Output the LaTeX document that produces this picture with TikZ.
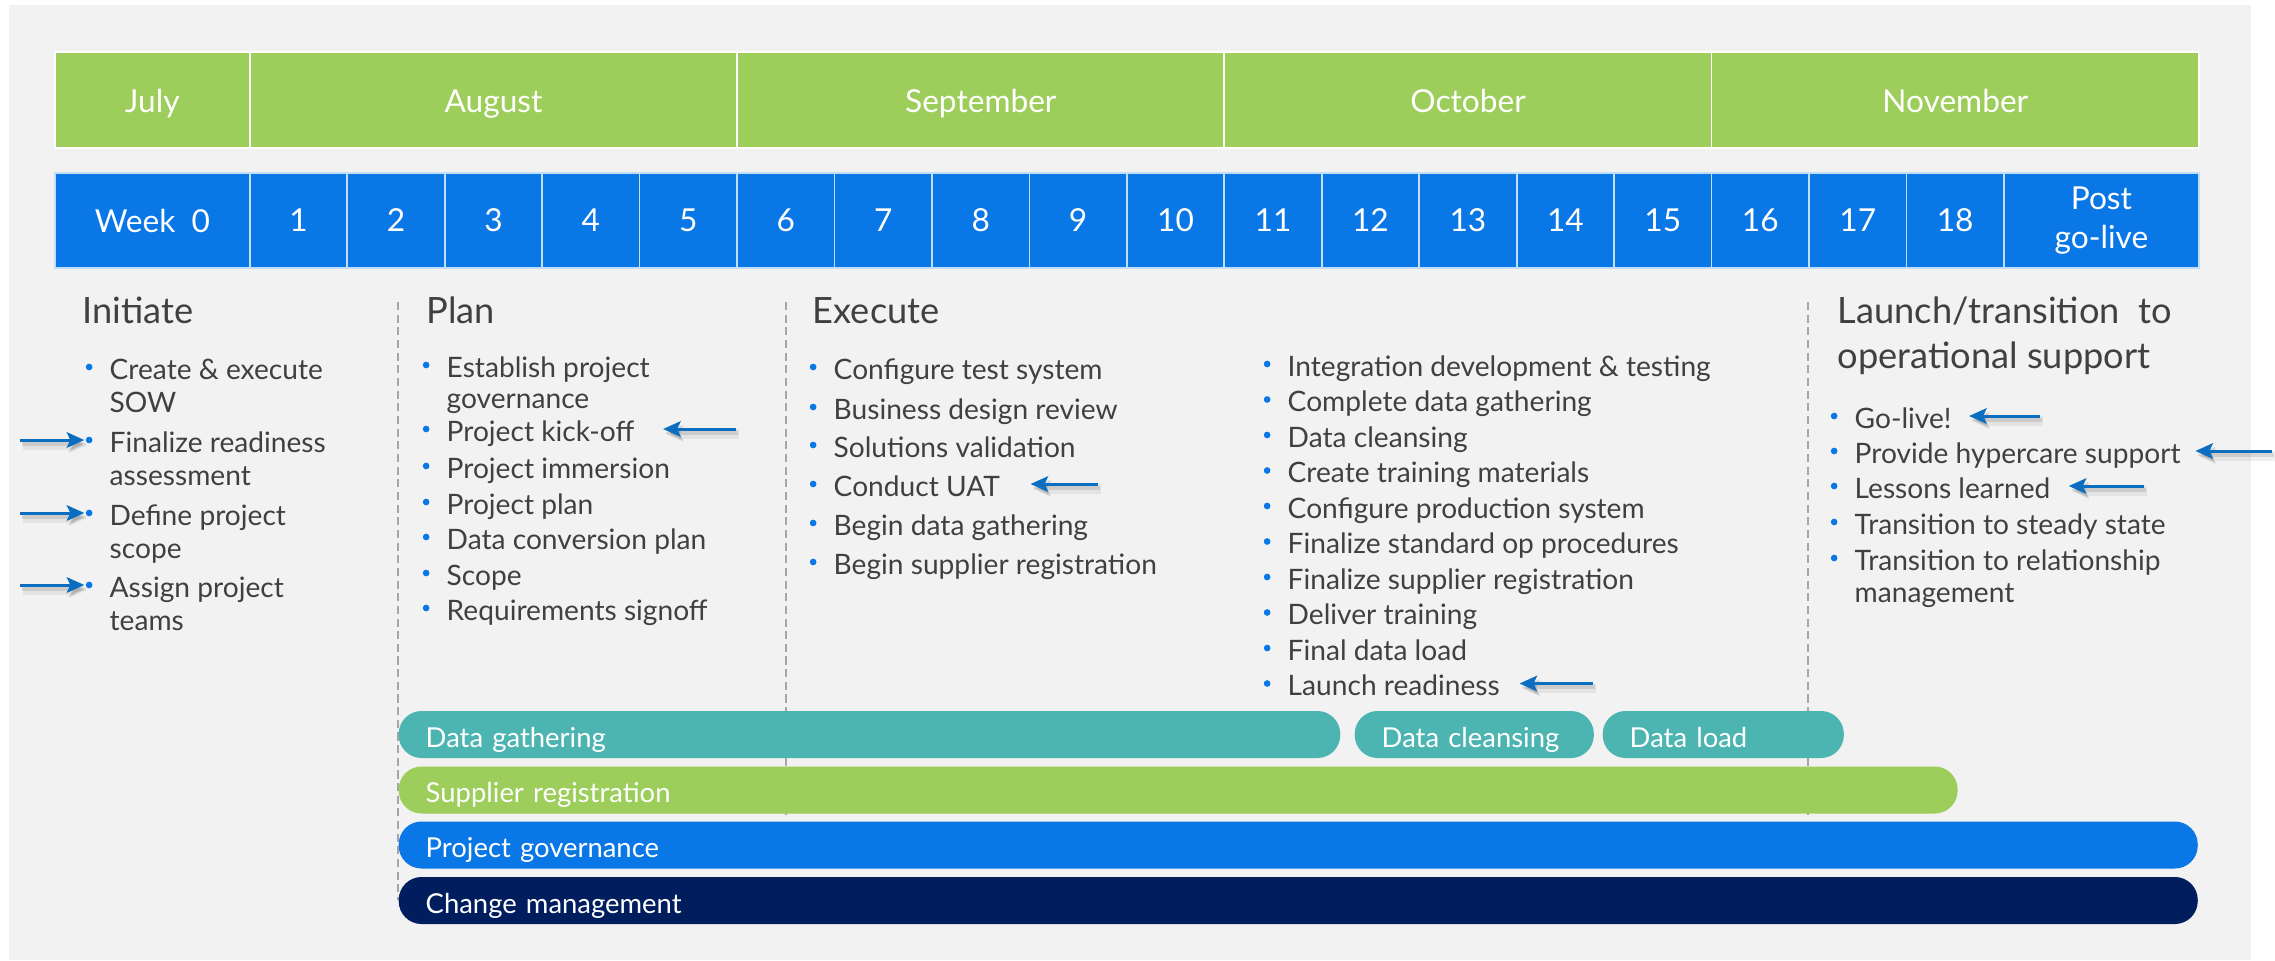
\documentclass[tikz,border=0pt]{standalone}
\usepackage{fontspec}
\setmainfont{Lato}
\usetikzlibrary{positioning,arrows.meta}
\tikzset{
  month/.style={rectangle, fill=lgreen, draw=white, line width=0.5pt, inner sep=0pt,
                minimum height=0.96cm, anchor=west, text=white, text height=1.9ex, text depth=.45ex,
                font=\fontsize{9}{11}\selectfont},
  week/.style={rectangle, fill=mblue, draw=white!75!mblue, line width=0.5pt, inner sep=0pt,
               minimum height=0.95cm, anchor=west, text=white, align=center,
               font=\fontsize{9}{10.9}\selectfont},
  head/.style={anchor=base west, inner sep=0pt, text=ink, font=\fontsize{10.3}{12}\selectfont},
  cont/.style={anchor=west, inner sep=0pt, text height=1.9ex, text depth=.5ex, text=ink,
               font=\fontsize{8}{9.6}\selectfont},
  item/.style={cont, label={[bul]left:}},
  bul/.style={circle, fill=mblue, inner sep=0pt, minimum size=1.9pt, label distance=4.5pt},
  bar/.style 2 args={rectangle, rounded corners=6.5pt, fill=#1, text=white, minimum height=0.47cm,
                     inner xsep=0.27cm, inner ysep=0pt, text width=#2, text height=1.9ex,
                     text depth=.45ex, align=left, anchor=west, font=\fontsize{7.8}{9}\selectfont},
  ptr/.style={draw=arrblue, line width=0.85pt, -{Stealth[length=5pt,width=4.4pt,inset=1pt]},
              preaction={draw=black, opacity=.06, line width=2.6pt,
                         transform canvas={shift={(0.8pt,-1.4pt)}}},
              preaction={draw=black, opacity=.1, line width=1.2pt,
                         transform canvas={shift={(0.6pt,-1.1pt)}}}},
  phase/.style={draw=dashgray, line width=0.45pt, dash pattern=on 2.3pt off 1.3pt},
}
\definecolor{pagebg}{HTML}{F2F2F2}
\definecolor{lgreen}{HTML}{9DCD5A}
\definecolor{mblue}{HTML}{0A77E6}
\definecolor{barteal}{HTML}{4DB5B1}
\definecolor{dnavy}{HTML}{001E5E}
\definecolor{ink}{HTML}{404040}
\definecolor{arrblue}{HTML}{0B6EC0}
\definecolor{dashgray}{HTML}{A6A6A6}

\begin{document}
\begin{tikzpicture}[x=0.01cm, y=-0.01cm]
  \fill[white] (0,0) rectangle (2275,960);
  \fill[pagebg] (9,5) rectangle (2251,960);
  \useasboundingbox (0,0) rectangle (2275,960);

  % months and weeks
  \foreach \m/\a/\b in {July/0/2, August/2/7, September/7/12, October/12/17, November/17/22}
    \node[month, minimum width={(\b-\a)*0.9745cm}] (m\a) at ({54+\a*97.45},100) {\m};
  \node[week, minimum width=1.949cm] (w0) at (54,220.5) {Week\ \ 0};
  \foreach \n in {1,...,18}
    \node[week, minimum width=0.9745cm] (w\n) at ({54+(\n+1)*97.45},220.5) {\n};
  \node[week, minimum width=1.949cm] (w19) at ({54+20*97.45},220.5) {Post\\go-live};

  % phase separators
  \draw[phase] (398,302) -- (398,900);
  \draw[phase] (786,302) -- (786,815);
  \draw[phase] (1808,302) -- (1808,815);

  % initiate
  \node[head] (init) at (82,323) {Initiate};
  \node[item] (cre) at (109,367) {Create \& execute};
  \node[cont] (cre2) at (109,400) {SOW};
  \node[item] (fin) at (109,440) {Finalize readiness};
  \node[cont] (fin2) at (109,473) {assessment};
  \node[item] (def) at (109,513) {Define project};
  \node[cont] (def2) at (109,546) {scope};
  \node[item] (asg) at (109,585) {Assign project};
  \node[cont] (asg2) at (109,618) {teams};

  % plan
  \node[head] (plan) at (426,323) {Plan};
  \node[item] (est) at (446,365) {Establish project};
  \node[cont] (est2) at (446,396) {governance};
  \node[item] (kick) at (446,429) {Project kick-off};
  \node[item] (imm) at (446,466) {Project immersion};
  \node[item] (pplan) at (446,502) {Project plan};
  \node[item] (conv) at (446,537) {Data conversion plan};
  \node[item] (scope) at (446,573) {Scope};
  \node[item] (req) at (446,608) {Requirements signoff};

  % execute
  \node[head] (exec) at (812,323) {Execute};
  \node[item] (cfg) at (833,367) {Configure test system};
  \node[item] (bdr) at (833,407) {Business design review};
  \node[item] (sol) at (833,445) {Solutions validation};
  \node[item] (uat) at (833,484) {Conduct UAT};
  \node[item] (bdg) at (833,523) {Begin data gathering};
  \node[item] (bsr) at (833,562) {Begin supplier registration};

  \node[item] (intg) at (1287,364) {Integration development \& testing};
  \node[item] (cdg) at (1287,399.5) {Complete data gathering};
  \node[item] (dcl) at (1287,435) {Data cleansing};
  \node[item] (ctm) at (1287,470.5) {Create training materials};
  \node[item] (cps) at (1287,506) {Configure production system};
  \node[item] (fsop) at (1287,541.5) {Finalize standard op procedures};
  \node[item] (fsr) at (1287,577) {Finalize supplier registration};
  \node[item] (dtr) at (1287,612.5) {Deliver training};
  \node[item] (fdl) at (1287,648) {Final data load};
  \node[item] (lr) at (1287,683.5) {Launch readiness};

  % launch
  \node[head] (launch) at (1837,323) {Launch/transition\ \ to};
  \node[head] (launch2) at (1837,368) {operational support};
  \node[item] (golive) at (1854,416) {Go-live!};
  \node[item] (hyp) at (1854,451) {Provide hypercare support};
  \node[item] (les) at (1854,486) {Lessons learned};
  \node[item] (steady) at (1854,522) {Transition to steady state};
  \node[item] (rel) at (1854,558) {Transition to relationship};
  \node[cont] (rel2) at (1854,590) {management};

  % pointers
  \coordinate (pfin) at (20,440);
  \coordinate (pdef) at (20,513);
  \coordinate (pasg) at (20,585);
  \coordinate (pkick) at (736,429);
  \coordinate (puat) at (1098,484);
  \coordinate (plr) at (1593,683.5);
  \coordinate (pgo) at (2040,416);
  \coordinate (phyp) at (2272,451);
  \coordinate (ples) at (2144,486);
  \draw[ptr, shorten >=7pt] (pfin) -- (fin);
  \draw[ptr, shorten >=7pt] (pdef) -- (def);
  \draw[ptr, shorten >=7pt] (pasg) -- (asg);
  \draw[ptr, shorten >=8pt] (pkick) -- (kick);
  \draw[ptr, shorten >=8.5pt] (puat) -- (uat);
  \draw[ptr, shorten >=5.4pt] (plr) -- (lr);
  \draw[ptr, shorten >=4.8pt] (pgo) -- (golive);
  \draw[ptr, shorten >=4pt] (phyp) -- (hyp);
  \draw[ptr, shorten >=5pt] (ples) -- (les);

  % workstreams
  \node[bar={barteal}{8.87cm}] (sgath) at (398,734.5) {Data gathering};
  \node[bar={barteal}{1.85cm}] (scln) at (1354,734.5) {Data cleansing};
  \node[bar={barteal}{1.87cm}] (sload) at (1602,734.5) {Data load};
  \node[bar={lgreen}{15.04cm}] (ssup) at (398,790) {Supplier registration};
  \node[bar={mblue}{17.44cm}] (sgov) at (398,845) {Project governance};
  \node[bar={dnavy}{17.44cm}] (schg) at (398,900.5) {Change management};
\end{tikzpicture}
\end{document}
